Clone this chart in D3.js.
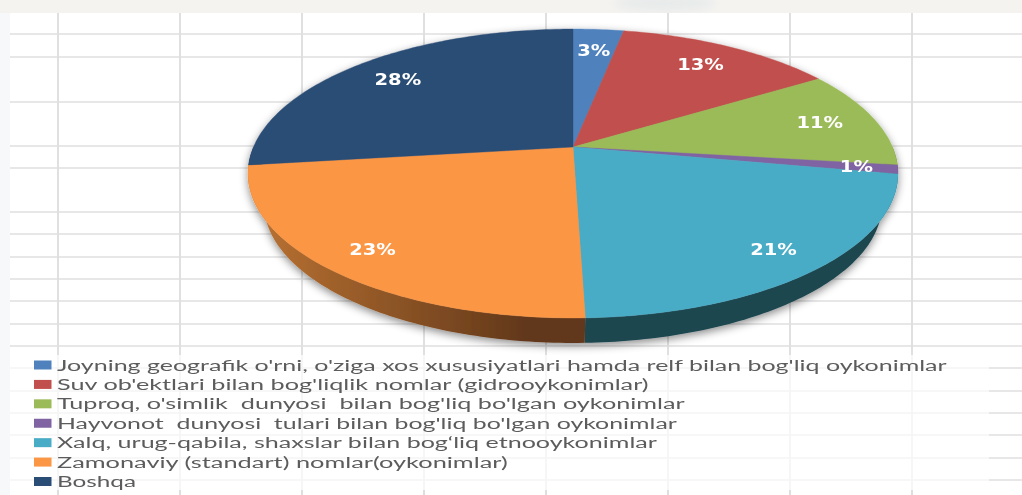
<!DOCTYPE html>
<html>
<head>
<meta charset="utf-8">
<script src="https://cdn.jsdelivr.net/npm/d3@7"></script>
<style>
  html, body { margin: 0; padding: 0; background: #fff; overflow: hidden; }
  svg { display: block; }
  .legend-label { font-family: Lato, sans-serif; font-size: 16px; fill: #5c5c5c; white-space: pre; }
  .pct { font-family: "DejaVu Sans", sans-serif; font-weight: bold; font-size: 15px; fill: #fff; text-anchor: middle; }
</style>
</head>
<body>
<svg width="1022" height="495"></svg>
<script>
const categories = [
  "Joyning geografik o'rni, o'ziga xos xususiyatlari hamda relf bilan bog'liq oykonimlar",
  "Suv ob'ektlari bilan bog'liqlik nomlar (gidrooykonimlar)",
  "Tuproq, o'simlik  dunyosi  bilan bog'liq bo'lgan oykonimlar",
  "Hayvonot  dunyosi  tulari bilan bog'liq bo'lgan oykonimlar",
  "Xalq, urug-qabila, shaxslar bilan bog‘liq etnooykonimlar",
  "Zamonaviy (standart) nomlar(oykonimlar)",
  "Boshqa"
];
// slice sizes, the printed labels are rounded differently
const values = [3, 13, 11, 1, 21.5, 23.5, 27];
const pctLabels = ["3%", "13%", "11%", "1%", "21%", "23%", "28%"];
const colors = ["#4f81bd", "#c0504d", "#9bbb59", "#8064a2", "#4aacc6", "#fb9645", "#2c4d75"];
const sideColors = ["#2f4d71", "#73302e", "#5d7035", "#4c3c61", "#1f4650", "url(#orangeSide)", "#1a2e46"];

const svg = d3.select("svg");
const width = +svg.attr("width");
const height = +svg.attr("height");

const defs = svg.append("defs");
const shadow = defs.append("filter").attr("id", "shadow")
  .attr("x", "-10%").attr("y", "-10%").attr("width", "120%").attr("height", "125%");
shadow.append("feDropShadow").attr("dx", 0).attr("dy", 3).attr("stdDeviation", 4)
  .attr("flood-color", "#000").attr("flood-opacity", 0.45);
defs.append("filter").attr("id", "soft").append("feGaussianBlur").attr("stdDeviation", 0.35);
defs.append("filter").attr("id", "blob").append("feGaussianBlur").attr("stdDeviation", 4);
defs.append("clipPath").attr("id", "topBand").append("rect").attr("width", width).attr("height", 13);

const orangeSide = defs.append("linearGradient").attr("id", "orangeSide")
  .attr("gradientUnits", "userSpaceOnUse")
  .attr("x1", 268).attr("x2", 525).attr("y1", 0).attr("y2", 0);
orangeSide.append("stop").attr("offset", 0).attr("stop-color", "#b56f31");
orangeSide.append("stop").attr("offset", 1).attr("stop-color", "#62381a");

svg.append("rect").attr("width", width).attr("height", height).attr("fill", "#fff");

// sheet gridlines
const strongH = [34, 57, 102, 146, 168, 212, 234, 257, 279, 301, 324, 346];
const faintH = [368, 391, 413, 435, 458, 480];
const vLines = d3.range(0, 8).map(i => 58 + i * 122);
const grid = svg.append("g");

grid.selectAll(".vs").data(vLines).enter().append("line")
  .attr("x1", d => d).attr("x2", d => d).attr("y1", 13).attr("y2", 355)
  .attr("stroke", "#e0e0e0").attr("stroke-width", 2);
grid.selectAll(".vf").data(vLines).enter().append("line")
  .attr("x1", d => d).attr("x2", d => d).attr("y1", 355).attr("y2", 490)
  .attr("stroke", "#f3f3f3").attr("stroke-width", 1.5);
grid.selectAll(".vb").data(vLines).enter().append("line")
  .attr("x1", d => d).attr("x2", d => d).attr("y1", 490).attr("y2", 495)
  .attr("stroke", "#dedede").attr("stroke-width", 2);
grid.selectAll(".hs").data(strongH).enter().append("line")
  .attr("x1", 10).attr("x2", width).attr("y1", d => d).attr("y2", d => d)
  .attr("stroke", "#dfdfdf").attr("stroke-width", 1.5);
grid.selectAll(".hf").data(faintH).enter().append("line")
  .attr("x1", 10).attr("x2", 989).attr("y1", d => d).attr("y2", d => d)
  .attr("stroke", "#f4f4f4").attr("stroke-width", 1.5);
grid.selectAll(".hr").data(faintH).enter().append("line")
  .attr("x1", 989).attr("x2", width).attr("y1", d => d).attr("y2", d => d)
  .attr("stroke", "#dfdfdf").attr("stroke-width", 1.5);

svg.append("rect").attr("width", 10).attr("height", height).attr("fill", "#f6f8fa");
svg.append("rect").attr("width", width).attr("height", 13).attr("fill", "#f4f3f0");
svg.append("g").attr("clip-path", "url(#topBand)")
  .append("ellipse").attr("cx", 665).attr("cy", 3).attr("rx", 50).attr("ry", 9)
  .attr("fill", "#e8ebeb").attr("filter", "url(#blob)");

// the tilted pie: a circle put through a perspective, so the centre sits above the ellipse middle
const cx = 573, cy = 147, R = 319.5, S = 139.6, k = -0.1834;
const project = (theta, r) => {
  const u = Math.sin(theta) * r, v = -Math.cos(theta) * r;
  const w = 1 + k * v;
  return [cx + R * u / w, cy + S * v / w];
};
// the lower rim is a bit narrower than the top face, so the wall tapers out at the sides
const lowerRim = p => [cx + (p[0] - cx) * 309 / 325, 204 + (p[1] - 173.5) * 139 / 144.5];

const arcs = d3.pie().sort(null).value(d => d)(values);
const line = d3.line();
const arcPoints = (a0, a1) => {
  const n = Math.max(2, Math.ceil((a1 - a0) * 60));
  return d3.range(n + 1).map(i => project(a0 + (a1 - a0) * i / n, 1));
};

const pie = svg.append("g").attr("filter", "url(#shadow)");

// side wall first, only the front half of the rim shows
const front = arcs.filter(d => d.endAngle > Math.PI / 2 && d.startAngle < Math.PI * 1.5);
pie.selectAll(".side").data(front).enter().append("path")
  .attr("class", "side")
  .attr("fill", d => sideColors[d.index])
  .attr("d", d => {
    const pts = arcPoints(Math.max(d.startAngle, Math.PI / 2), Math.min(d.endAngle, Math.PI * 1.5));
    return line(pts.concat(pts.map(lowerRim).reverse())) + "Z";
  });

pie.selectAll(".slice").data(arcs).enter().append("path")
  .attr("class", "slice")
  .attr("fill", d => colors[d.index])
  .attr("stroke", d => colors[d.index])
  .attr("stroke-width", 0.4)
  .attr("d", d => line([[cx, cy]].concat(arcPoints(d.startAngle, d.endAngle))) + "Z");

svg.append("g").attr("filter", "url(#soft)")
  .selectAll("text").data(arcs).enter().append("text")
  .attr("class", "pct")
  .attr("dy", "0.36em")
  .attr("transform", d => {
    const mid = (d.startAngle + d.endAngle) / 2;
    // the 1% label sits further out, right on the thin slice
    const r = 0.825 - 0.035 * Math.cos(mid) + (d.value <= 1 ? 0.045 : 0);
    const p = project(mid, r);
    return "translate(" + p[0] + "," + p[1] + ") scale(1.3,1)";
  })
  .text((d, i) => pctLabels[i]);

// legend, rows are stretched wide like the source picture
const rowEnds = [947, 649, 685, 677, 657, 508, 136];
const rowY = d3.scalePoint().domain(d3.range(categories.length)).range([365, 481.5]);
const legend = svg.append("g").attr("filter", "url(#soft)");
const rows = legend.selectAll("g").data(categories).enter().append("g")
  .attr("transform", (d, i) => "translate(0," + rowY(i) + ")");
rows.append("rect").attr("x", 34).attr("y", -4.5).attr("width", 17.5).attr("height", 9)
  .attr("fill", (d, i) => colors[i]);
rows.append("text").attr("class", "legend-label")
  .attr("dy", "0.35em")
  .text(d => d)
  .attr("transform", function (d, i) {
    return "translate(57,0) scale(" + (rowEnds[i] - 57) / this.getComputedTextLength() + ",1)";
  });
</script>
</body>
</html>
